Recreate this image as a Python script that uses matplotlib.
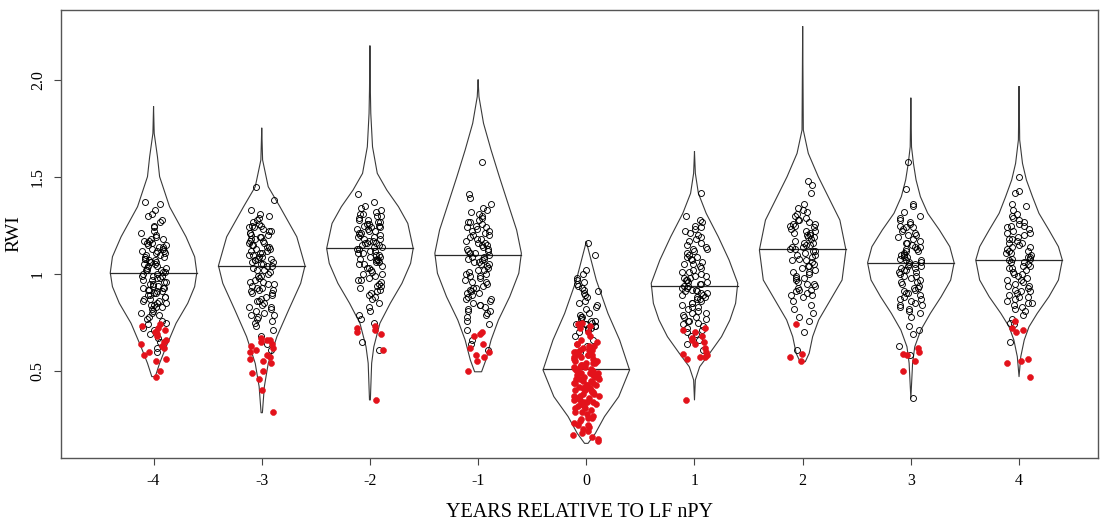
import numpy as np
import matplotlib
matplotlib.use("Agg")
import matplotlib.pyplot as plt

plt.rcParams["font.family"] = ["Liberation Serif", "DejaVu Serif"]

# ---- data ----
years = ["-4", "-3", "-2", "-1", "0", "1", "2", "3", "4"]

rwi_mean = [1.005, 1.043, 1.132, 1.098, 0.510, 0.940, 1.127, 1.058, 1.072]

# bean outline: RWI levels and relative density (1 = widest point of the bean)
bean_levels = [
    [1.862, 1.725, 1.605, 1.502, 1.347, 1.192, 1.089, 1.007, 0.935, 0.849, 0.746, 0.625, 0.540, 0.471],
    [1.751, 1.588, 1.450, 1.347, 1.192, 1.043, 0.952, 0.814, 0.677, 0.539, 0.419, 0.285],
    [2.175, 1.948, 1.828, 1.656, 1.519, 1.433, 1.347, 1.261, 1.132, 1.055, 0.952, 0.849, 0.746, 0.625, 0.540, 0.351],
    [2.000, 1.914, 1.777, 1.639, 1.502, 1.364, 1.227, 1.107, 1.004, 0.883, 0.763, 0.660, 0.557, 0.496],
    [1.167, 1.124, 0.969, 0.797, 0.660, 0.505, 0.368, 0.265, 0.179, 0.127],
    [1.630, 1.519, 1.416, 1.313, 1.192, 1.072, 0.952, 0.849, 0.763, 0.677, 0.591, 0.522, 0.454, 0.351],
    [2.275, 1.742, 1.622, 1.502, 1.381, 1.278, 1.124, 0.969, 0.866, 0.763, 0.677, 0.591, 0.548],
    [1.906, 1.656, 1.570, 1.485, 1.399, 1.313, 1.227, 1.141, 1.058, 0.969, 0.883, 0.797, 0.711, 0.625, 0.540, 0.359],
    [1.966, 1.691, 1.570, 1.485, 1.399, 1.313, 1.227, 1.141, 1.072, 0.969, 0.883, 0.797, 0.728, 0.660, 0.574, 0.471],
]
bean_density = [
    [0, 0.015, 0.09, 0.14, 0.37, 0.75, 0.95, 1.0, 0.95, 0.79, 0.52, 0.29, 0.14, 0.04],
    [0, 0.02, 0.15, 0.42, 0.81, 1.0, 0.90, 0.62, 0.35, 0.15, 0.06, 0.015],
    [0, 0.01, 0.02, 0.06, 0.17, 0.39, 0.66, 0.875, 1.0, 0.94, 0.74, 0.47, 0.23, 0.09, 0.04, 0.01],
    [0, 0.02, 0.125, 0.30, 0.49, 0.69, 0.89, 1.0, 0.94, 0.73, 0.47, 0.30, 0.18, 0.08],
    [0, 0.05, 0.23, 0.50, 0.77, 1.0, 0.75, 0.42, 0.21, 0.04],
    [0, 0.02, 0.09, 0.27, 0.55, 0.80, 1.0, 0.95, 0.82, 0.625, 0.35, 0.12, 0.02, 0],
    [0, 0.015, 0.13, 0.36, 0.63, 0.86, 1.0, 0.91, 0.64, 0.37, 0.23, 0.15, 0.06],
    [0, 0.015, 0.06, 0.12, 0.22, 0.39, 0.66, 0.90, 1.0, 0.92, 0.70, 0.45, 0.23, 0.09, 0.04, 0],
    [0, 0.015, 0.08, 0.17, 0.31, 0.46, 0.69, 0.91, 1.0, 0.91, 0.69, 0.42, 0.23, 0.12, 0.04, 0],
]

# individual trees, open circles
rwi_open = [
    [1.37, 1.36, 1.33, 1.31, 1.30, 1.28, 1.27, 1.25, 1.24, 1.22, 1.21, 1.20, 1.19, 1.18, 1.18, 1.17,
     1.16, 1.16, 1.15, 1.14, 1.14, 1.13, 1.12, 1.12, 1.11, 1.10, 1.10, 1.09, 1.09, 1.08, 1.07, 1.07,
     1.06, 1.06, 1.05, 1.05, 1.04, 1.03, 1.03, 1.02, 1.02, 1.01, 1.00, 1.00, 0.99, 0.99, 0.98, 0.97,
     0.97, 0.96, 0.96, 0.95, 0.95, 0.94, 0.93, 0.93, 0.92, 0.92, 0.91, 0.90, 0.90, 0.89, 0.88, 0.88,
     0.87, 0.86, 0.86, 0.85, 0.84, 0.84, 0.83, 0.82, 0.81, 0.80, 0.79, 0.78, 0.77, 0.76, 0.75, 0.74,
     0.72, 0.71, 0.69, 0.67, 0.65, 0.62, 0.60,
     1.17, 1.13, 1.11, 1.08, 1.04, 1.01, 0.98, 0.94, 0.91, 0.87, 0.83, 0.80, 1.15, 1.06, 0.99, 0.89,
     0.93, 1.02, 1.12, 0.85],
    [1.45, 1.38, 1.33, 1.31, 1.30, 1.29, 1.28, 1.27, 1.26, 1.25, 1.24, 1.24, 1.23, 1.22, 1.22, 1.21,
     1.20, 1.20, 1.19, 1.18, 1.18, 1.17, 1.16, 1.16, 1.15, 1.14, 1.14, 1.13, 1.12, 1.12, 1.11, 1.10,
     1.10, 1.09, 1.08, 1.08, 1.07, 1.06, 1.06, 1.05, 1.04, 1.04, 1.03, 1.02, 1.01, 1.00, 0.99, 0.98,
     0.97, 0.96, 0.96, 0.95, 0.94, 0.93, 0.92, 0.92, 0.91, 0.90, 0.89, 0.88, 0.87, 0.86, 0.85, 0.84,
     0.83, 0.82, 0.81, 0.80, 0.79, 0.78, 0.77, 0.76, 0.75, 0.73, 0.71, 0.68, 0.64, 0.61,
     1.25, 1.21, 1.19, 1.15, 1.13, 1.09, 1.05, 1.02, 0.99, 0.95, 0.90, 0.86, 0.83, 0.79, 1.17, 1.11,
     1.07, 0.93],
    [1.41, 1.37, 1.35, 1.34, 1.33, 1.32, 1.31, 1.30, 1.30, 1.29, 1.28, 1.28, 1.27, 1.26, 1.26, 1.25,
     1.24, 1.24, 1.23, 1.22, 1.22, 1.21, 1.20, 1.20, 1.19, 1.18, 1.18, 1.17, 1.16, 1.16, 1.15, 1.15,
     1.14, 1.13, 1.13, 1.12, 1.12, 1.11, 1.10, 1.10, 1.09, 1.08, 1.08, 1.07, 1.06, 1.06, 1.05, 1.04,
     1.03, 1.02, 1.01, 1.00, 0.99, 0.98, 0.97, 0.96, 0.95, 0.94, 0.93, 0.92, 0.91, 0.90, 0.89, 0.88,
     0.87, 0.85, 0.83, 0.81, 0.79, 0.77, 0.75, 0.65, 0.61,
     1.31, 1.27, 1.25, 1.23, 1.19, 1.17, 1.14, 1.11, 1.09, 1.05, 1.03, 1.00, 0.97, 0.94, 1.21, 1.16,
     1.07],
    [1.58, 1.41, 1.39, 1.36, 1.34, 1.33, 1.32, 1.31, 1.30, 1.29, 1.28, 1.27, 1.26, 1.25, 1.24, 1.24,
     1.23, 1.22, 1.21, 1.20, 1.20, 1.19, 1.18, 1.17, 1.16, 1.16, 1.15, 1.14, 1.13, 1.12, 1.12, 1.11,
     1.10, 1.09, 1.09, 1.08, 1.07, 1.06, 1.06, 1.05, 1.04, 1.03, 1.02, 1.01, 1.00, 0.99, 0.98, 0.97,
     0.96, 0.95, 0.94, 0.93, 0.92, 0.91, 0.90, 0.89, 0.88, 0.87, 0.86, 0.85, 0.84, 0.83, 0.82, 0.81,
     0.80, 0.79, 0.78, 0.76, 0.74, 0.71, 0.66, 0.64, 0.61,
     1.27, 1.22, 1.18, 1.15, 1.11, 1.08, 1.05, 1.02, 0.99, 0.96, 0.93, 0.90, 0.87, 0.84, 0.81, 1.13,
     1.00],
    [1.16, 1.10, 1.02, 1.00, 0.98, 0.97, 0.96, 0.95, 0.93, 0.92, 0.91, 0.90, 0.89, 0.88, 0.86, 0.84,
     0.83, 0.82, 0.80, 0.79, 0.78, 0.77, 0.76, 0.76, 0.75, 0.75, 0.74, 0.74, 0.73, 0.73, 0.72, 0.71,
     0.70, 0.68, 0.66, 0.63, 0.60, 0.74, 0.72, 0.78, 0.85, 0.94],
    [1.42, 1.30, 1.28, 1.27, 1.25, 1.24, 1.23, 1.22, 1.21, 1.20, 1.18, 1.17, 1.16, 1.15, 1.14, 1.13,
     1.12, 1.11, 1.10, 1.09, 1.08, 1.07, 1.06, 1.05, 1.04, 1.03, 1.02, 1.01, 1.00, 0.99, 0.99, 0.98,
     0.97, 0.96, 0.96, 0.95, 0.94, 0.94, 0.93, 0.92, 0.92, 0.91, 0.90, 0.90, 0.89, 0.88, 0.88, 0.87,
     0.86, 0.85, 0.84, 0.83, 0.82, 0.81, 0.80, 0.79, 0.78, 0.77, 0.76, 0.75, 0.74, 0.73, 0.72, 0.71,
     0.70, 0.69, 0.68, 0.66, 0.64, 0.61,
     1.19, 1.13, 1.09, 1.05, 1.01, 0.98, 0.95, 0.93, 0.91, 0.89, 0.87, 0.85, 0.83, 0.80, 0.78, 0.76,
     0.97],
    [1.48, 1.46, 1.42, 1.36, 1.34, 1.33, 1.32, 1.31, 1.30, 1.29, 1.28, 1.27, 1.26, 1.25, 1.25, 1.24,
     1.23, 1.22, 1.21, 1.20, 1.20, 1.19, 1.18, 1.17, 1.16, 1.15, 1.15, 1.14, 1.13, 1.12, 1.12, 1.11,
     1.10, 1.09, 1.08, 1.07, 1.06, 1.05, 1.04, 1.03, 1.02, 1.01, 1.00, 0.99, 0.98, 0.97, 0.96, 0.95,
     0.94, 0.93, 0.92, 0.91, 0.90, 0.89, 0.88, 0.86, 0.84, 0.82, 0.80, 0.78, 0.76, 0.70, 0.61,
     1.28, 1.26, 1.22, 1.19, 1.16, 1.13, 1.10, 1.07, 1.04, 1.01, 0.98, 0.95, 0.92, 0.89, 1.21, 1.14],
    [1.58, 1.44, 1.36, 1.35, 1.32, 1.30, 1.29, 1.28, 1.27, 1.26, 1.25, 1.24, 1.23, 1.22, 1.21, 1.20,
     1.19, 1.18, 1.17, 1.16, 1.15, 1.14, 1.14, 1.13, 1.12, 1.11, 1.10, 1.10, 1.09, 1.08, 1.07, 1.07,
     1.06, 1.05, 1.05, 1.04, 1.03, 1.03, 1.02, 1.01, 1.00, 0.99, 0.98, 0.97, 0.96, 0.95, 0.94, 0.93,
     0.92, 0.91, 0.90, 0.89, 0.88, 0.87, 0.86, 0.85, 0.84, 0.83, 0.82, 0.81, 0.80, 0.78, 0.73, 0.71,
     0.69, 0.63, 0.58, 0.36,
     1.24, 1.20, 1.16, 1.12, 1.09, 1.06, 1.04, 1.02, 0.99, 0.96, 0.93, 0.90, 0.87, 0.84, 1.13, 1.01],
    [1.50, 1.43, 1.42, 1.36, 1.35, 1.33, 1.31, 1.30, 1.29, 1.28, 1.27, 1.26, 1.25, 1.24, 1.23, 1.22,
     1.21, 1.20, 1.19, 1.18, 1.17, 1.16, 1.15, 1.14, 1.13, 1.12, 1.12, 1.11, 1.10, 1.09, 1.08, 1.08,
     1.07, 1.06, 1.05, 1.04, 1.03, 1.02, 1.01, 1.00, 0.99, 0.98, 0.97, 0.96, 0.95, 0.94, 0.93, 0.92,
     0.91, 0.90, 0.89, 0.88, 0.87, 0.86, 0.85, 0.84, 0.83, 0.82, 0.81, 0.79, 0.77, 0.75, 0.74, 0.65,
     1.25, 1.21, 1.18, 1.14, 1.11, 1.09, 1.06, 1.03, 1.00, 0.97, 0.94, 0.91, 0.88, 0.85, 1.16, 1.04],
]

# trees marked red (filled)
rwi_red = [
    [0.74, 0.73, 0.72, 0.71, 0.70, 0.70, 0.69, 0.68, 0.66, 0.65, 0.64, 0.63, 0.62, 0.60, 0.58, 0.56,
     0.55, 0.50, 0.47],
    [0.67, 0.66, 0.66, 0.65, 0.64, 0.63, 0.62, 0.61, 0.60, 0.58, 0.57, 0.56, 0.55, 0.54, 0.50, 0.49,
     0.46, 0.40, 0.29],
    [0.73, 0.72, 0.71, 0.70, 0.69, 0.61, 0.35],
    [0.70, 0.69, 0.68, 0.64, 0.62, 0.60, 0.58, 0.57, 0.55, 0.50],
    [0.75, 0.74, 0.73, 0.72, 0.70, 0.68, 0.66, 0.65, 0.64, 0.64, 0.63, 0.63, 0.62, 0.62, 0.61, 0.61,
     0.60, 0.60, 0.59, 0.59, 0.58, 0.58, 0.57, 0.57, 0.56, 0.56, 0.55, 0.55, 0.54, 0.54, 0.53, 0.53,
     0.52, 0.52, 0.51, 0.51, 0.50, 0.50, 0.49, 0.49, 0.48, 0.48, 0.47, 0.47, 0.46, 0.46, 0.45, 0.45,
     0.44, 0.44, 0.43, 0.43, 0.42, 0.42, 0.41, 0.41, 0.40, 0.40, 0.39, 0.39, 0.38, 0.38, 0.37, 0.37,
     0.36, 0.36, 0.35, 0.35, 0.34, 0.34, 0.33, 0.33, 0.32, 0.32, 0.31, 0.30, 0.29, 0.28, 0.27, 0.26,
     0.25, 0.24, 0.23, 0.22, 0.21, 0.20, 0.19, 0.18, 0.17, 0.16, 0.15, 0.14,
     0.58, 0.55, 0.52, 0.49, 0.46, 0.43, 0.40, 0.37, 0.34, 0.31, 0.61, 0.54, 0.47, 0.44, 0.29, 0.26,
     0.22],
    [0.72, 0.71, 0.70, 0.68, 0.67, 0.66, 0.65, 0.64, 0.62, 0.60, 0.59, 0.58, 0.57, 0.57, 0.56, 0.35],
    [0.74, 0.59, 0.57, 0.55],
    [0.62, 0.60, 0.59, 0.58, 0.55, 0.50],
    [0.76, 0.72, 0.71, 0.70, 0.56, 0.55, 0.54, 0.47],
]

BEAN_HALF = 0.40     # half width of the widest part of each bean (x units)
JITTER = 0.12


def jitter(n, start=0):
    # deterministic hash -> spread of points across the strip (position only)
    k = np.arange(start, start + n, dtype=float)
    u = (np.sin(k * 12.9898 + 78.233) * 43758.5453) % 1.0
    return (u - 0.5) * 2 * JITTER


fig = plt.figure(figsize=(11, 5.22), dpi=100)
ax = fig.add_axes([0.0555, 0.1226, 0.9427, 0.8582])

for i, yr in enumerate(years):
    cx = i + 1
    lv = np.array(bean_levels[i])
    half = np.array(bean_density[i]) * BEAN_HALF
    xs = np.concatenate([cx + half, (cx - half)[::-1], [cx + half[0]]])
    ys = np.concatenate([lv, lv[::-1], [lv[0]]])
    ax.plot(xs, ys, color="#3a3a3a", lw=0.8, zorder=2)

    # mean line spans the bean at that level
    w = np.interp(rwi_mean[i], lv[::-1], half[::-1])
    ax.plot([cx - w, cx + w], [rwi_mean[i], rwi_mean[i]], color="#2a2a2a", lw=0.9, zorder=2)

    opn = np.array(rwi_open[i])
    red = np.array(rwi_red[i])
    off = 1000 * i
    ax.plot(cx + jitter(len(opn), off), opn, "o", ms=4.3, mfc="none", mec="black", mew=0.65,
            zorder=3)
    ax.plot(cx + jitter(len(red), off + len(opn)), red, "o", ms=4.3, mfc="#e3121b",
            mec="#e3121b", mew=0.4, zorder=4)

ax.set_xlim(0.145, 9.73)
ax.set_ylim(0.0515, 2.361)
ax.set_xticks(range(1, len(years) + 1))
ax.set_xticklabels(years)
ax.set_yticks([0.5, 1, 1.5, 2.0])
ax.set_yticklabels(["0.5", "1", "1.5", "2.0"], rotation=90, va="center")
ax.tick_params(direction="out", length=5, width=0.8, color="#444444", labelsize=11.5, pad=6)
for s in ax.spines.values():
    s.set_color("#555555")
    s.set_linewidth(1.0)

ax.set_xlabel("YEARS RELATIVE TO LF nPY", fontsize=14.5, labelpad=10)
ax.set_ylabel("RWI", fontsize=14, labelpad=5)

fig.savefig("out.png", dpi=100)
